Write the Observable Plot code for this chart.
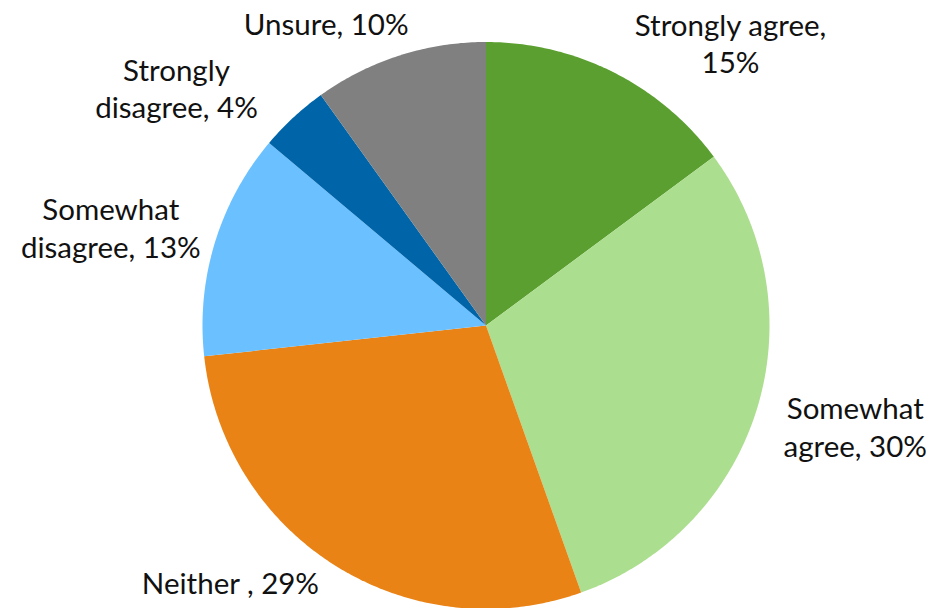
<!DOCTYPE html>
<html>
<head>
<meta charset="utf-8">
<script src="https://cdn.jsdelivr.net/npm/d3@7"></script>
<script src="https://cdn.jsdelivr.net/npm/@observablehq/plot@0.6"></script>
<style>
  html, body { margin: 0; padding: 0; background: #fff; }
  #chart { width: 930px; height: 608px; overflow: hidden; }
</style>
</head>
<body>
<div id="chart"></div>
<script>
// Data
const categories = ["Strongly agree", "Somewhat agree", "Neither ", "Somewhat disagree", "Strongly disagree", "Unsure"];
const values = [15, 30, 29, 13, 4, 10];
const labels = ["Strongly agree,\n15%", "Somewhat\nagree, 30%", "Neither , 29%", "Somewhat\ndisagree, 13%", "Strongly\ndisagree, 4%", "Unsure, 10%"];

// Styling
const colors = ["#5a9f2f", "#acde8f", "#e98316", "#6bc0ff", "#0064a8", "#808080"];
// label nudges (px) from the slice's mid-angle point on the rim
const labelNudge = [[117, -30], [98, 18], [-105, 16], [-104, -16], [-117, -30], [-73, -33]];

const rows = categories.map((c, i) => ({category: c, value: values[i], label: labels[i], color: colors[i], nudge: labelNudge[i]}));
const arcs = d3.pie().sort(null).value(d => d.value)(rows);

// build polygon outlines for each slice from the pie angles
const slicePts = [];
for (const a of arcs) {
  const n = Math.max(4, Math.ceil((a.endAngle - a.startAngle) / 0.01));
  slicePts.push({cat: a.data.category, x: 0, y: 0});
  for (let k = 0; k <= n; k++) {
    const t = a.startAngle + (a.endAngle - a.startAngle) * k / n;
    slicePts.push({cat: a.data.category, x: Math.sin(t), y: Math.cos(t)});
  }
}
const labelPts = arcs.map(a => {
  const m = (a.startAngle + a.endAngle) / 2;
  return {x: Math.sin(m), y: Math.cos(m), label: a.data.label, dx: a.data.nudge[0], dy: a.data.nudge[1]};
});

const chart = Plot.plot({
  width: 930,
  height: 608,
  margin: 0,
  style: {fontFamily: "Lato, 'Open Sans', sans-serif", background: "white"},
  x: {domain: [-1, 1], range: [202, 769], axis: null},
  y: {domain: [-1, 1], range: [608.5, 41.5], axis: null},
  color: {domain: categories, range: colors},
  marks: [
    Plot.line(slicePts, {x: "x", y: "y", z: "cat", fill: "cat", stroke: "none", curve: "linear-closed"}),
    ...labelPts.map(p => Plot.text([p], {x: "x", y: "y", text: "label", dx: p.dx, dy: p.dy, fontSize: 29.5, lineHeight: 1.27, fill: "#111"}))
  ]
});
document.getElementById("chart").appendChild(chart);
</script>
</body>
</html>
